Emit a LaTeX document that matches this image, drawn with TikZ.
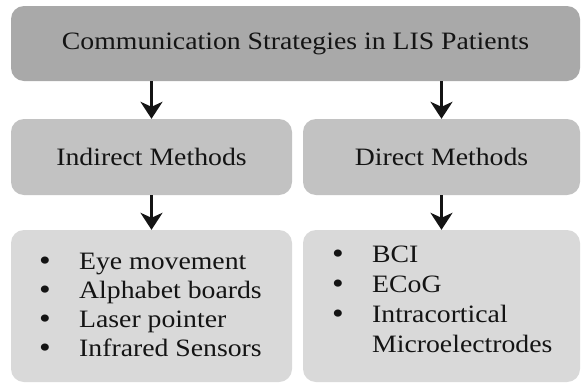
\documentclass[tikz,border=0pt]{standalone}
\usepackage{fontspec}
\setmainfont{Liberation Serif}
\usetikzlibrary{arrows.meta}
\definecolor{cTop}{HTML}{A9A9A9}
\definecolor{cMid}{HTML}{C2C2C2}
\definecolor{cBot}{HTML}{D9D9D9}
\definecolor{cTxt}{HTML}{141414}
\newcommand{\sx}[1]{\scalebox{1.11}[1]{#1}}
\newcommand{\blt}{\smash{\raisebox{-1.2pt}{\scalebox{1.2}{•}}}}
\begin{document}
\begin{tikzpicture}[x=1pt,y=-1pt,
  box/.style={rounded corners=13pt, inner sep=0pt, text=cTxt, font=\fontsize{25}{30}\selectfont},
  listtext/.style={anchor=base west, inner sep=0pt, text=cTxt},
  arr/.style={line width=2.6pt, draw=black!92, -{Stealth[width=22pt,length=17pt,inset=5pt]}},
]
\fill[white] (0,0) rectangle (581,386);
\useasboundingbox (0,0) rectangle (581,386);
\node[box, fill=cTop, minimum width=569pt, minimum height=75pt] (top) at (295.5,43.5) {\sx{Communication Strategies in LIS Patients}};
\node[box, fill=cMid, minimum width=281pt, minimum height=76pt] (ml) at (151.5,157) {\sx{Indirect Methods}};
\node[box, fill=cMid, minimum width=277pt, minimum height=76pt] (mr) at (441.5,157) {\sx{Direct Methods}};
\node[box, fill=cBot, minimum width=281pt, minimum height=152pt] (bl) at (151.5,306) {};
\node[box, fill=cBot, minimum width=277pt, minimum height=152pt] (br) at (441.5,306) {};
\node[listtext, font=\fontsize{25}{29.2}\selectfont] (ll) at (39,269) {\sx{\begin{tabular}[t]{@{}p{36pt}@{}l@{}}
\blt & Eye movement\\
\blt & Alphabet boards\\
\blt & Laser pointer\\
\blt & Infrared Sensors
\end{tabular}}};
\node[listtext, font=\fontsize{25}{30}\selectfont] (rl) at (332,262) {\sx{\begin{tabular}[t]{@{}p{36pt}@{}l@{}}
\blt & BCI\\
\blt & ECoG\\
\blt & Intracortical\\
 & Microelectrodes
\end{tabular}}};
\draw[arr] (top.south -| ml.north) -- (ml.north);
\draw[arr] (top.south -| mr.north) -- (mr.north);
\draw[arr] (ml.south) -- (bl.north);
\draw[arr] (mr.south) -- (br.north);
\end{tikzpicture}
\end{document}
